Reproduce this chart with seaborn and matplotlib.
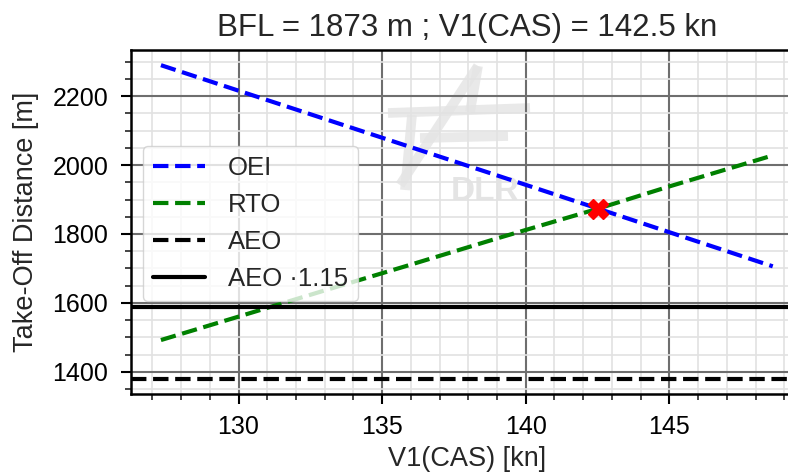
import numpy as np
import pandas as pd
import matplotlib
matplotlib.use("Agg")
import matplotlib.pyplot as plt
import seaborn as sns
from matplotlib.ticker import MultipleLocator

# ---- data ----
v1 = [127.3, 130.0, 133.0, 136.0, 139.0, 142.5, 145.0, 148.6]
oei = [2290, 2216, 2134, 2052, 1970, 1874, 1805, 1706]
rto = [1492, 1560, 1636, 1711, 1787, 1873, 1938, 2028]
aeo = 1380
aeo_factor = 1.15
bfl_v1 = 142.5
bfl = 1873
title = "BFL = 1873 m ; V1(CAS) = 142.5 kn"

sns.set_theme(style="ticks")
plt.rcParams['font.family'] = ['Liberation Sans', 'DejaVu Sans']

fig = plt.figure(figsize=(7.88, 4.76), dpi=100)
W, H = 788, 476
AX_L, AX_R, AX_T, AX_B = 130.5, 803.5, 49.5, 394.3
ax = fig.add_axes([AX_L / W, (H - AX_B) / H, (AX_R - AX_L) / W, (AX_B - AX_T) / H])

df = pd.DataFrame({"v1": v1, "oei": oei, "rto": rto})

# watermark (DLR logo approximation)
def px(x, y):
    return ((x - AX_L) / (AX_R - AX_L), (AX_B - y) / (AX_B - AX_T))
wm = dict(transform=ax.transAxes, color="#e4e4e4", lw=7, solid_capstyle="butt", zorder=0.5, alpha=0.8)
for (x0, y0, x1, y1) in [(400, 185, 478, 66), (388, 113, 530, 108), (420, 138, 508, 136),
                        (478, 66, 470, 112), (405, 190, 412, 115)]:
    a = px(x0, y0); b = px(x1, y1)
    ax.plot([a[0], b[0]], [a[1], b[1]], **wm)
tx, ty = px(485, 192)
ax.text(tx, ty, "DLR", transform=ax.transAxes, color="#e2e2e2", fontsize=24,
        fontweight="bold", ha="center", va="center", zorder=0.5, alpha=0.9)

sns.lineplot(data=df, x="v1", y="oei", ax=ax, color="blue", lw=3, ls="--", label="OEI", zorder=3)
sns.lineplot(data=df, x="v1", y="rto", ax=ax, color="green", lw=3, ls="--", label="RTO", zorder=3)
ax.axhline(aeo, color="black", lw=3, ls="--", label="AEO", zorder=3)
ax.axhline(aeo * aeo_factor, color="black", lw=3, ls="-", label="AEO \u00b71.15", zorder=3)
ax.plot([bfl_v1], [bfl], marker="X", color="red", markersize=14, ls="none", zorder=4)

ax.set_xlim(126.24, 149.67)
ax.set_ylim(1334.5, 2335.5)
ax.xaxis.set_major_locator(MultipleLocator(5))
ax.xaxis.set_minor_locator(MultipleLocator(1))
ax.yaxis.set_major_locator(MultipleLocator(200))
ax.yaxis.set_minor_locator(MultipleLocator(50))
ax.grid(which="major", color="#6e6e6e", lw=1.5, zorder=1)
ax.grid(which="minor", color="#e2e2e2", lw=1.2, zorder=0.8)
ax.set_axisbelow(True)

for s in ["left", "bottom", "top", "right"]:
    ax.spines[s].set_color("black")
    ax.spines[s].set_linewidth(1.8)
ax.tick_params(which="major", direction="out", length=7, width=1.5, labelsize=18, colors="black")
ax.tick_params(which="minor", direction="out", length=4, width=1.2)
ax.tick_params(axis="x", which="both", top=False, pad=8)
ax.tick_params(axis="y", which="major", pad=9)

ax.set_xlabel("V1(CAS) [kn]", fontsize=19.5, labelpad=5)
ax.set_ylabel("Take-Off Distance [m]", fontsize=19.5, labelpad=10)
ax.set_title(title, fontsize=22.5, pad=10)

leg = ax.legend(loc="upper left", bbox_to_anchor=px(143, 146), borderaxespad=0,
                fontsize=18.5, frameon=True, fancybox=True, framealpha=0.8,
                handlelength=2.0, handletextpad=0.9, labelspacing=0.5, borderpad=0.4)
leg.get_frame().set_edgecolor("#cccccc")

fig.savefig("out.png", dpi=100)
